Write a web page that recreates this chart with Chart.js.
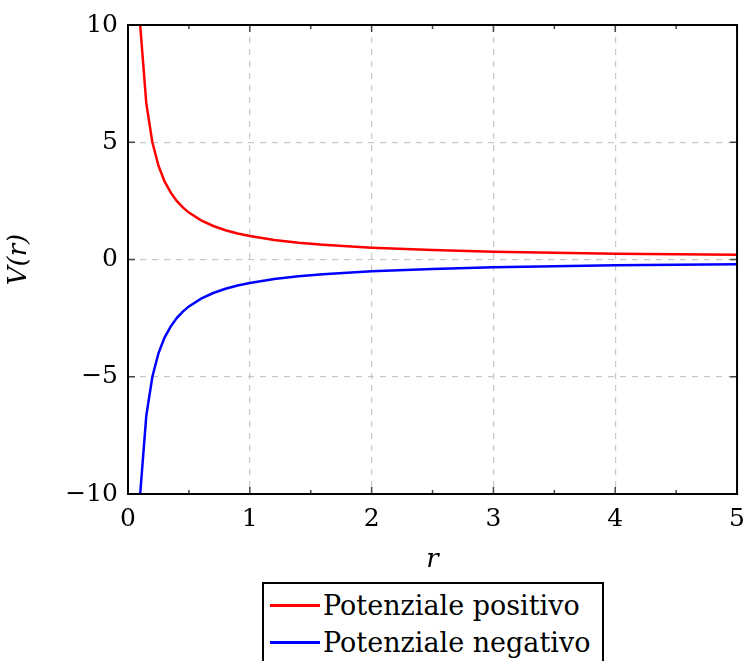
<!DOCTYPE html>
<html>
<head>
<meta charset="utf-8">
<script src="https://cdn.jsdelivr.net/npm/chart.js@4"></script>
<style>
  body { margin: 0; background: #fff; overflow: hidden; }
  #wrap { position: relative; width: 744px; height: 661px; overflow: hidden; }
  #legend {
    position: absolute; left: 262px; top: 582px; width: 342px; height: 100px;
    border: 2px solid #000; font-family: "DejaVu Serif", serif; font-size: 27px;
    padding-top: 3px; box-sizing: border-box;
  }
  .row { display: flex; align-items: center; height: 37px; }
  .swatch { width: 50px; height: 3px; margin-left: 6px; margin-right: 3px; }
</style>
</head>
<body>
<div id="wrap">
  <canvas id="myChart" width="755" height="580"></canvas>
  <div id="legend"></div>
</div>
<script>
// values
const rValues = [0.10, 0.15, 0.20, 0.25, 0.30, 0.35, 0.40, 0.45, 0.50, 0.60, 0.70, 0.80, 0.90,
  1.00, 1.20, 1.40, 1.60, 1.80, 2.00, 2.50, 3.00, 3.50, 4.00, 4.50, 5.00];
const positiveV = [10.00, 6.67, 5.00, 4.00, 3.33, 2.86, 2.50, 2.22, 2.00, 1.67, 1.43, 1.25, 1.11,
  1.00, 0.83, 0.71, 0.63, 0.56, 0.50, 0.40, 0.33, 0.29, 0.25, 0.22, 0.20];
const negativeV = [-10.00, -6.67, -5.00, -4.00, -3.33, -2.86, -2.50, -2.22, -2.00, -1.67, -1.43, -1.25, -1.11,
  -1.00, -0.83, -0.71, -0.63, -0.56, -0.50, -0.40, -0.33, -0.29, -0.25, -0.22, -0.20];
const seriesNames = ['Potenziale positivo', 'Potenziale negativo'];
const seriesColors = ['#ff0000', '#0000ff'];
const xTicks = [0, 1, 2, 3, 4, 5];
const yTicks = [-10, -5, 0, 5, 10];

const serif = '"DejaVu Serif", serif';

// frame box + inward tick marks like pgfplots
const framePlugin = {
  id: 'frame',
  afterDatasetsDraw(chart) {
    const { ctx, chartArea: a, scales } = chart;
    ctx.save();
    ctx.strokeStyle = '#444';
    ctx.lineWidth = 1.5;
    ctx.beginPath();
    for (let k = 0; k <= 10; k++) {
      const x = scales.x.getPixelForValue(k / 2);
      const len = k % 2 === 0 ? 7 : 4;
      ctx.moveTo(x, a.bottom); ctx.lineTo(x, a.bottom - len);
      ctx.moveTo(x, a.top); ctx.lineTo(x, a.top + len);
    }
    yTicks.forEach(v => {
      const y = scales.y.getPixelForValue(v);
      ctx.moveTo(a.left, y); ctx.lineTo(a.left + 7, y);
      ctx.moveTo(a.right, y); ctx.lineTo(a.right - 7, y);
    });
    ctx.stroke();
    ctx.strokeStyle = '#000';
    ctx.lineWidth = 2;
    ctx.strokeRect(a.left, a.top, a.right - a.left, a.bottom - a.top);
    ctx.restore();
  }
};

const ctx = document.getElementById('myChart').getContext('2d');
const myChart = new Chart(ctx, {
  type: 'line',
  data: {
    datasets: [
      { label: seriesNames[0], data: rValues.map((r, i) => ({ x: r, y: positiveV[i] })),
        borderColor: seriesColors[0], borderWidth: 2.5, pointRadius: 0, tension: 0 },
      { label: seriesNames[1], data: rValues.map((r, i) => ({ x: r, y: negativeV[i] })),
        borderColor: seriesColors[1], borderWidth: 2.5, pointRadius: 0, tension: 0 }
    ]
  },
  options: {
    responsive: false,
    animation: false,
    layout: { padding: { top: 18, right: 0, left: 0, bottom: 0 } },
    plugins: { legend: { display: false }, tooltip: { enabled: false } },
    scales: {
      x: {
        type: 'linear', min: 0, max: 5,
        afterBuildTicks: s => { s.ticks = xTicks.map(v => ({ value: v })); },
        afterFit: s => { s.height = 86; },
        ticks: { color: '#000', font: { family: serif, size: 25 }, padding: 10, maxRotation: 0 },
        grid: { color: '#c8c8c8', lineWidth: 1.2, drawTicks: false },
        border: { display: false, dash: [6, 6] },
        title: { display: true, text: 'r', color: '#000', padding: { top: 0 },
          font: { family: serif, size: 26, style: 'italic' } }
      },
      y: {
        min: -10, max: 10,
        afterBuildTicks: s => { s.ticks = yTicks.map(v => ({ value: v })); },
        afterFit: s => { s.width = 128; },
        ticks: { color: '#000', font: { family: serif, size: 25 }, padding: 10,
          callback: v => String(v).replace('-', '\u2212') },
        grid: { color: '#c8c8c8', lineWidth: 1.2, drawTicks: false },
        border: { display: false, dash: [6, 6] },
        title: { display: true, text: 'V(r)', color: '#000', padding: { bottom: 26 },
          font: { family: serif, size: 26, style: 'italic' } }
      }
    }
  },
  plugins: [framePlugin]
});

// legend box below the axes
const legend = document.getElementById('legend');
seriesNames.forEach((name, i) => {
  const row = document.createElement('div');
  row.className = 'row';
  row.innerHTML = '<span class="swatch" style="background:' + seriesColors[i] + '"></span><span>' + name + '</span>';
  legend.appendChild(row);
});
</script>
</body>
</html>
